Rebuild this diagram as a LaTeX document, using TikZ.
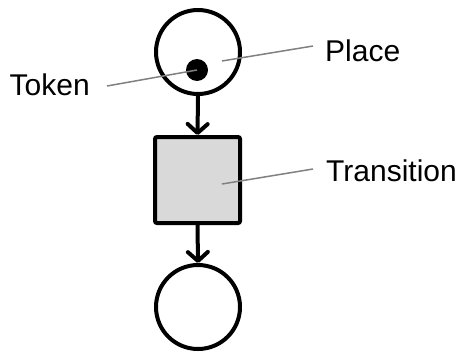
\documentclass[tikz,border=0pt]{standalone}
\usepackage{fontspec}
\setmainfont{Liberation Sans}
\usetikzlibrary{arrows.meta}
\begin{document}
\begin{tikzpicture}[x=1pt,y=-1pt,
  place/.style={circle,draw=black,line width=4pt,minimum size=84pt,inner sep=0pt,fill=white},
  trans/.style={rectangle,draw=black,line width=4pt,minimum width=85pt,minimum height=86pt,inner sep=0pt,fill=black!15,rounded corners=2pt},
  tokendot/.style={circle,fill=black,minimum size=22pt,inner sep=0pt},
  arr/.style={line width=4pt,-{Straight Barb[length=9pt,width=20pt,line cap=round,line join=round]}},
  lead/.style={draw=black!50,line width=1.5pt},
  lbl/.style={font=\fontsize{30}{36}\selectfont,inner sep=0pt,anchor=base west}]
\useasboundingbox (0,0) rectangle (462,351);
\node[place] (p1) at (198,52) {};
\node[trans] (t) at (197.5,180) {};
\node[place] (p2) at (198,307) {};
\node[tokendot] (tok) at (197,70) {};
\draw[arr] (p1.south) -- (t.north);
\draw[arr] (t.south) -- (p2.north);
\node[lbl] (lplace) at (325,61) {Place};
\node[lbl] (ltrans) at (326,181) {Transition};
\node[lbl] (ltok) at (9.5,95) {Token};
\coordinate (cplace) at (313,46);
\coordinate (ctrans) at (313,169);
\coordinate (ctok) at (107,86);
\coordinate (splace) at (222,61);
\coordinate (strans) at (222,184);
\draw[lead] (splace) -- (cplace);
\draw[lead] (strans) -- (ctrans);
\draw[lead] (ctok) -- (tok.center);
\end{tikzpicture}
\end{document}
